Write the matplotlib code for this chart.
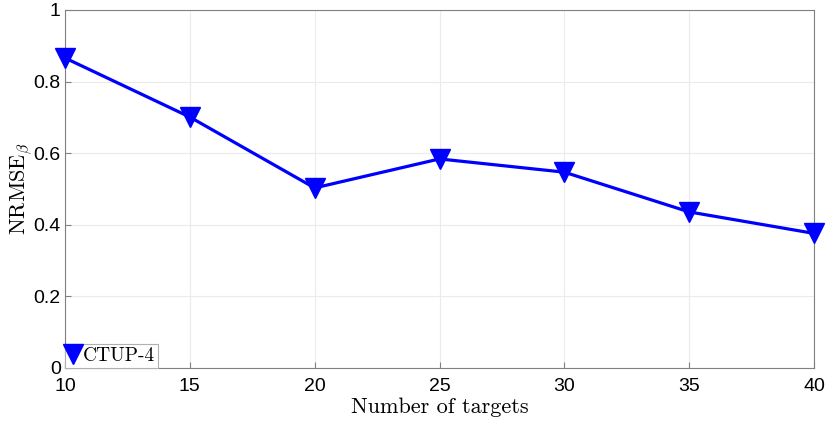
import matplotlib
matplotlib.use("Agg")
import matplotlib.pyplot as plt
from matplotlib.lines import Line2D

# data
targets = [10, 15, 20, 25, 30, 35, 40]
nrmse = [0.866, 0.701, 0.503, 0.584, 0.547, 0.436, 0.376]
series_label = "CTUP-4"

plt.rcParams['font.family'] = ['Liberation Sans', 'DejaVu Sans']
plt.rcParams['mathtext.fontset'] = 'cm'

fig = plt.figure(figsize=(8.3, 4.25), dpi=100)
# axes box: x 65..814 px, y 10..368 px
ax = fig.add_axes([65 / 830, 57 / 425, 749 / 830, 358 / 425])

ax.plot(targets, nrmse, color='#0000ff', lw=2.3, marker='v', ms=15,
        clip_on=False, zorder=3)

ax.set_xlim(10, 40)
ax.set_ylim(0, 1)
ax.set_xticks(range(10, 41, 5))
ax.set_yticks([0, 0.2, 0.4, 0.6, 0.8, 1])
ax.set_yticklabels(['0', '0.2', '0.4', '0.6', '0.8', '1'])
ax.tick_params(direction='in', labelsize=14, color='#808080', length=4)
ax.tick_params(axis='x', pad=7)
ax.tick_params(axis='y', pad=3)
ax.grid(True, color='#ebebeb', lw=0.8)
ax.set_axisbelow(True)
for s in ax.spines.values():
    s.set_color('#808080')
    s.set_linewidth(0.8)

ax.set_xlabel("Number of targets", fontsize=16, fontname='cmr10', labelpad=2)
ax.set_ylabel(r"NRMSE$_{\beta}$", fontsize=16, fontname='cmr10', labelpad=-1)

h = Line2D([], [], color='#0000ff', marker='v', ms=15, ls='none')
leg = ax.legend([h], [series_label], loc='lower left', borderaxespad=0,
                handlelength=0.5, handletextpad=0.25, borderpad=0.15,
                fancybox=False, framealpha=1, prop={'family': 'cmr10', 'size': 14})
leg.get_frame().set_edgecolor('#b0b0b0')
leg.get_frame().set_linewidth(0.8)

fig.savefig("out.png", dpi=100)
